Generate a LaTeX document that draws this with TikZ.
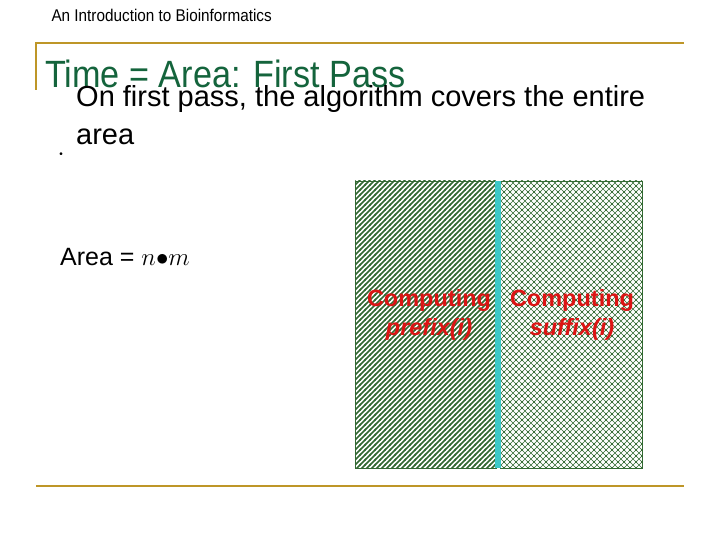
\documentclass[tikz,border=0pt]{standalone}
\usepackage{fontspec}
\setmainfont{Liberation Sans}
\newfontfamily\narrowf[FakeStretch=0.9]{Liberation Sans}
\usetikzlibrary{patterns}
\pgfdeclarepatternformonly{wlines}{\pgfqpoint{-1pt}{-1pt}}{\pgfqpoint{6pt}{6pt}}{\pgfqpoint{5pt}{5pt}}{\pgfsetlinewidth{1.6pt}\pgfpathmoveto{\pgfqpoint{-1pt}{-1pt}}\pgfpathlineto{\pgfqpoint{6pt}{6pt}}\pgfusepath{stroke}}
\pgfdeclarepatternformonly{wcross}{\pgfqpoint{-1pt}{-1pt}}{\pgfqpoint{7pt}{7pt}}{\pgfqpoint{6pt}{6pt}}{\pgfsetlinewidth{0.6pt}\pgfpathmoveto{\pgfqpoint{-1pt}{-1pt}}\pgfpathlineto{\pgfqpoint{7pt}{7pt}}\pgfpathmoveto{\pgfqpoint{-1pt}{7pt}}\pgfpathlineto{\pgfqpoint{7pt}{-1pt}}\pgfusepath{stroke}}
\definecolor{gold}{RGB}{190,150,40}
\definecolor{tgreen}{RGB}{20,100,60}
\definecolor{hgreen}{RGB}{50,105,50}
\definecolor{cyanbar}{RGB}{60,200,200}
\definecolor{lred}{RGB}{220,20,20}
\tikzset{rule/.style={draw=gold,line width=2.5pt},
 lbl/.style={text=lred,font=\fontsize{23.5}{29}\selectfont\bfseries,align=center}}
\begin{document}
\begin{tikzpicture}[x=1pt,y=-1pt]
\useasboundingbox (0,0) rectangle (720,540);
\draw[rule] (36,90) -- (36,43) -- (684,43);
\draw[rule] (36,486) -- (684,486);
\node[anchor=west,font=\narrowf\fontsize{17}{18}\selectfont] (hdr) at (48,15) {An Introduction to Bioinformatics};
\node[anchor=base west,text=tgreen,font=\narrowf\fontsize{38}{40}\selectfont,inner sep=0pt] (title) at (45,88) {Time = Area: First Pass};
\node[font=\fontsize{10}{12}\selectfont] (bul) at (61,155) {\textbullet};
\node[anchor=base west,align=left,font=\fontsize{29}{38}\selectfont,inner sep=0pt] (txt) at (76,145) {On first pass, the algorithm covers the entire\\area};
\node[anchor=base west,font=\fontsize{25}{28}\selectfont,inner sep=0pt] (area) at (60,265) {Area = $n{\bullet}m$};
\draw[draw=hgreen,pattern=wlines,pattern color=hgreen] (355,181) rectangle (496,468);
\draw[draw=hgreen,pattern=wcross,pattern color=hgreen] (500,181) rectangle (642,468);
\fill[cyanbar] (495,181) rectangle (501,468);
\node[lbl] (pre) at (429,315) {Computing\\\itshape prefix(i)};
\node[lbl] (suf) at (572,315) {Computing\\\itshape suffix(i)};
\end{tikzpicture}
\end{document}
